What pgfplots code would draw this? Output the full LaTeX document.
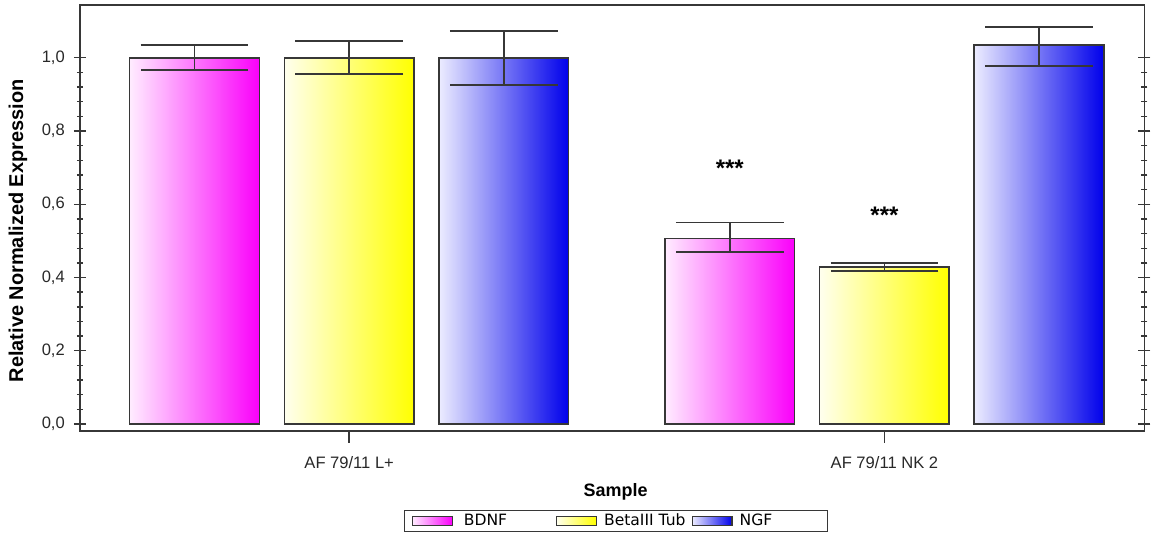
\documentclass[border=0pt]{standalone}
\usepackage{pgfplots}
\pgfplotsset{compat=1.18}
\usepackage{fontspec}
\setmainfont{Liberation Sans}
\newfontfamily\legfont{DejaVu Sans}
\definecolor{mag}{RGB}{250,0,250}
\definecolor{magL}{RGB}{255,236,255}
\definecolor{yel}{RGB}{255,255,0}
\definecolor{yelL}{RGB}{255,255,238}
\definecolor{blu}{RGB}{0,0,235}
\definecolor{bluL}{RGB}{236,236,255}
\definecolor{frame}{RGB}{55,55,55}
\definecolor{txt}{RGB}{40,40,40}
\begin{document}
\begin{tikzpicture}
\begin{axis}[
  scale only axis, width=533.5pt, height=213.5pt,
  xmin=80, xmax=1147, ymin=-0.019, ymax=1.144,
  axis line style={frame, line width=0.8pt},
  every tick/.style={frame, line width=0.7pt},
  xtick={350,886.5}, xticklabels={AF 79/11 L+, AF 79/11 NK 2},
  xtick pos=left, xtick align=outside,
  ytick={0,0.2,0.4,0.6,0.8,1.0}, minor y tick num=4,
  ytick pos=both, ytick align=center,
  major tick length=6pt, minor tick length=3pt,
  /pgf/number format/.cd, use comma, fixed, fixed zerofill, precision=1, assume math mode=true,
  /pgfplots/.cd,
  tick label style={font=\fontsize{8.3}{9}\selectfont, text=txt},
  yticklabel style={xshift=-1pt},
  xticklabel style={yshift=-3pt},
  ylabel={\bfseries Relative Normalized Expression},
  ylabel style={font=\fontsize{10}{11}\selectfont, at={(axis description cs:-0.058,0.47)}, anchor=center},
  xlabel={\bfseries Sample},
  xlabel style={font=\fontsize{9}{10}\selectfont, at={(axis description cs:0.5033,-0.143)}, anchor=center},
  legend columns=3,
  legend style={at={(axis description cs:0.5037,-0.2115)}, anchor=center,
    draw=frame, line width=0.6pt, inner xsep=3.5pt, inner ysep=0pt,
    nodes={inner ysep=1.5pt},
    font=\legfont\fontsize{7.8}{8.5}\selectfont,
    /tikz/column 1/.style={column sep=3.5pt},
    /tikz/column 2/.style={column sep=22.5pt},
    /tikz/column 3/.style={column sep=1.5pt},
    /tikz/column 4/.style={column sep=1pt},
    /tikz/column 5/.style={column sep=1.5pt}},
  clip=false,
]
% bars, group AF 79/11 L+
\addplot[ybar, bar width=130, bar shift=0pt, draw=frame, line width=0.8pt, left color=magL, right color=mag,
  legend image code/.code={\draw[draw=frame, line width=0.6pt, left color=magL, right color=mag] (0pt,-2.3pt) rectangle (20pt,2.3pt);}]
  coordinates {(195,1.000)};
\addlegendentry{BDNF}
\addplot[ybar, bar width=130, bar shift=0pt, draw=frame, line width=0.8pt, left color=yelL, right color=yel,
  legend image code/.code={\draw[draw=frame, line width=0.6pt, left color=yelL, right color=yel] (0pt,-2.3pt) rectangle (20pt,2.3pt);}]
  coordinates {(350,1.000)};
\addlegendentry{BetaIII Tub}
\addplot[ybar, bar width=130, bar shift=0pt, draw=frame, line width=0.8pt, left color=bluL, right color=blu,
  legend image code/.code={\draw[draw=frame, line width=0.6pt, left color=bluL, right color=blu] (0pt,-2.3pt) rectangle (20pt,2.3pt);}]
  coordinates {(505,1.000)};
\addlegendentry{NGF\hspace*{22pt}}
% bars, group AF 79/11 NK 2
\addplot[forget plot, ybar, bar width=130, bar shift=0pt, draw=frame, line width=0.8pt, left color=magL, right color=mag]
  coordinates {(731.5,0.507)};
\addplot[forget plot, ybar, bar width=130, bar shift=0pt, draw=frame, line width=0.8pt, left color=yelL, right color=yel]
  coordinates {(886.5,0.428)};
\addplot[forget plot, ybar, bar width=130, bar shift=0pt, draw=frame, line width=0.8pt, left color=bluL, right color=blu]
  coordinates {(1041.5,1.035)};
% error bars
\addplot[forget plot, draw=none, mark=none,
  error bars/.cd, y dir=both, y explicit,
  error bar style={draw=frame, line width=0.9pt},
  error mark options={rotate=90, mark size=27pt, draw=frame, line width=0.9pt}]
  coordinates {
    (195,1.000) += (0,0.035) -= (0,0.034)
    (350,1.000) += (0,0.045) -= (0,0.045)
    (505,1.000) += (0,0.074) -= (0,0.074)
    (731.5,0.507) += (0,0.043) -= (0,0.038)
    (886.5,0.428) += (0,0.011) -= (0,0.011)
    (1041.5,1.035) += (0,0.049) -= (0,0.057)
  };
\node[font=\fontsize{12}{13}\selectfont\bfseries] at (axis cs:731.5,0.698) {***};
\node[font=\fontsize{12}{13}\selectfont\bfseries] at (axis cs:886.5,0.570) {***};
\end{axis}
\useasboundingbox (-40pt,-55.5pt) rectangle (535.5pt,216pt);
\end{tikzpicture}
\end{document}
